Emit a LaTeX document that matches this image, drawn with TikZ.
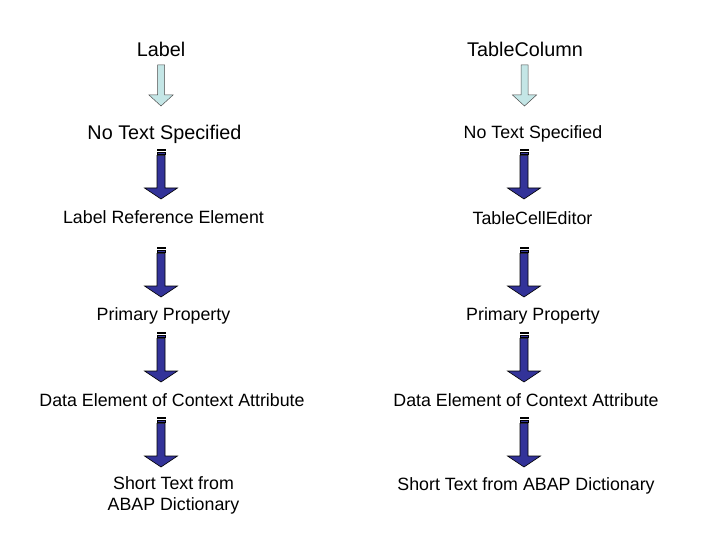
\documentclass[tikz,border=0pt]{standalone}
\usepackage{fontspec}
\setmainfont{Liberation Sans}
\usepackage{xcolor}

\definecolor{arrowblue}{RGB}{51,51,153}
\definecolor{arrowcyan}{RGB}{196,230,230}

\tikzset{
    txt/.style={inner sep=0pt,yshift=-1.5pt,font=\fontsize{17.8}{21}\selectfont,align=center},
    bigtxt/.style={inner sep=0pt,yshift=-1.5pt,font=\fontsize{19.8}{23}\selectfont},
    lightarrow/.pic={
        \filldraw[fill=arrowcyan,draw=black!70,line width=0.5pt]
            (-3.5,0) -- (-3.5,30) -- (-12,30) -- (0,41) -- (12,30) -- (3.5,30) -- (3.5,0) -- cycle;
    },
    darkarrow/.pic={
        \filldraw[fill=arrowblue,draw=black,line width=0.7pt] (-4,0) rectangle (4,1.8);
        \filldraw[fill=arrowblue,draw=black,line width=0.7pt] (-4,3.2) rectangle (4,5);
        \filldraw[fill=arrowblue,draw=black,line width=0.6pt]
            (-4,6.4) -- (-4,39) -- (-16.5,39) -- (0,50) -- (16.5,39) -- (4,39) -- (4,6.4) -- cycle;
    }
}

\begin{document}
\begin{tikzpicture}[x=1pt,y=-1pt]
            \useasboundingbox (0,0) rectangle (720,540);

            % left column
            \node (lab) at (161,48) [bigtxt] {Label};
            \node (lnotext) at (164.5,133) [bigtxt] {No Text Specified};
            \node (lref) at (163.5,216) [txt] {Label Reference Element};
            \node (lprim) at (163.5,314) [txt] {Primary Property};
            \node (ldata) at (172,399) [txt] {Data Element of Context Attribute};
            \node (lshort) at (173.5,494) [txt] {Short Text from\\ ABAP Dictionary};

            \coordinate (la0) at (161,65);
            \coordinate (la1) at (161,149);
            \coordinate (la2) at (161,247);
            \coordinate (la3) at (161,332);
            \coordinate (la4) at (161,417);
            \pic at (la0) {lightarrow};
            \foreach \a in {la1,la2,la3,la4}
                \pic at (\a) {darkarrow};

            % right column
            \node (tcol) at (525,48) [bigtxt] {TableColumn};
            \node (rnotext) at (533,132) [txt] {No Text Specified};
            \node (rcell) at (532.5,217) [txt] {TableCellEditor};
            \node (rprim) at (533,314) [txt] {Primary Property};
            \node (rdata) at (526,399) [txt] {Data Element of Context Attribute};
            \node (rshort) at (526,484) [txt] {Short Text from ABAP Dictionary};

            \coordinate (ra0) at (524.5,65);
            \coordinate (ra1) at (524,149);
            \coordinate (ra2) at (524,247);
            \coordinate (ra3) at (524,332);
            \coordinate (ra4) at (524,417);
            \pic at (ra0) {lightarrow};
            \foreach \a in {ra1,ra2,ra3,ra4}
                \pic at (\a) {darkarrow};

        \end{tikzpicture}
\end{document}
